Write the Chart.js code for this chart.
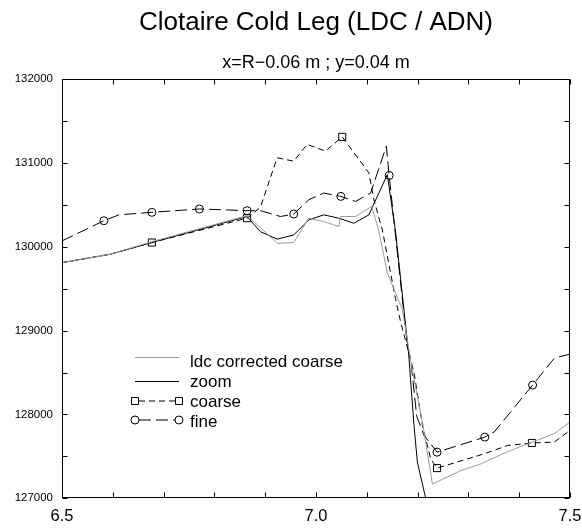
<!DOCTYPE html>
<html>
<head>
<meta charset="utf-8">
<script src="https://cdn.jsdelivr.net/npm/chart.js@4/dist/chart.umd.min.js"></script>
<style>
  html, body { margin: 0; padding: 0; background: #fff; }
  #c { display: block; }
</style>
</head>
<body>
<canvas id="c" width="582" height="529"></canvas>
<script>
// ---- Data ----
const titleText = 'Clotaire Cold Leg (LDC / ADN)';
const subtitleText = 'x=R\u22120.06 m ; y=0.04 m';

const seriesLabels = ['ldc corrected coarse', 'zoom', 'coarse', 'fine'];

const ldcX = [6.5, 6.5947, 6.6769, 6.8643, 6.8905, 6.9235, 6.9562, 6.9858, 7.0154, 7.0450, 7.0483, 7.0779, 7.1095, 7.1233, 7.1404, 7.1700, 7.1903, 7.2101, 7.2292, 7.2850, 7.3245, 7.3639, 7.4034, 7.4690, 7.5];
const ldcY = [129810, 129910, 130060, 130370, 130230, 130040, 130050, 130340, 130300, 130240, 130360, 130360, 130480, 130200, 129690, 129250, 128500, 127890, 127170, 127330, 127410, 127520, 127620, 127770, 127910];

const zoomX = [6.5, 6.5947, 6.6769, 6.8643, 6.8905, 6.9235, 6.9562, 6.9858, 7.0154, 7.0450, 7.0746, 7.1041, 7.1404, 7.1568, 7.1824, 7.1929, 7.1996, 7.2258];
const zoomY = [129810, 129910, 130050, 130360, 130180, 130090, 130140, 130320, 130380, 130340, 130280, 130380, 130860, 130170, 128720, 127870, 127430, 126740];

const coarseX = [6.5, 6.5947, 6.6769, 6.8643, 6.8905, 6.9235, 6.9562, 6.9826, 7.0187, 7.0517, 7.1041, 7.1140, 7.1306, 7.1568, 7.1667, 7.1929, 7.2095, 7.2258, 7.2383, 7.3310, 7.3771, 7.4250, 7.4690, 7.5];
const coarseY = [129810, 129910, 130050, 130340, 130470, 131060, 131020, 131220, 131140, 131310, 130880, 130560, 130200, 129370, 129100, 128500, 127870, 127470, 127360, 127530, 127630, 127660, 127670, 127810];
const coarseMarked = [2, 3, 9, 18, 21];

const fineX = [6.5, 6.5825, 6.6118, 6.6769, 6.7705, 6.8643, 6.8905, 6.9300, 6.9562, 6.9858, 7.0154, 7.0489, 7.0779, 7.1075, 7.1385, 7.1440, 7.1568, 7.1799, 7.1864, 7.1982, 7.2126, 7.2383, 7.3323, 7.3507, 7.4264, 7.4690, 7.5];
const fineY = [130070, 130310, 130380, 130410, 130450, 130430, 130430, 130360, 130390, 130560, 130640, 130600, 130540, 130640, 131200, 130850, 130120, 128820, 128660, 127980, 127750, 127550, 127730, 127790, 128350, 128670, 128720];
const fineMarked = [1, 3, 4, 5, 8, 11, 15, 21, 22, 24];

const xLabelValues = [6.5, 7.0, 7.5];
const yLabelValues = [127000, 128000, 129000, 130000, 131000, 132000];

// ---- Chart ----
const FONT = "'Liberation Sans', Arial, Helvetica, sans-serif";
const toPts = (xs, ys) => xs.map((x, i) => ({ x: x, y: ys[i] }));

const titlePlugin = {
  id: 'titles',
  afterDraw(chart) {
    const { ctx, chartArea } = chart;
    const cx = (chartArea.left + chartArea.right) / 2;
    ctx.save();
    ctx.fillStyle = '#000';
    ctx.textAlign = 'center';
    ctx.textBaseline = 'alphabetic';
    ctx.font = '26px ' + FONT;
    ctx.fillText(titleText, cx, 30);
    ctx.font = '18px ' + FONT;
    ctx.fillText(subtitleText, cx, 68);
    ctx.restore();
  }
};

const framePlugin = {
  id: 'frame',
  afterDatasetsDraw(chart) {
    const { ctx, chartArea: a, scales } = chart;
    const L = Math.round(a.left) + 0.5, R = Math.round(a.right) - 0.5;
    const T = Math.round(a.top) + 0.5, B = Math.round(a.bottom) - 0.5;
    const len = 5;
    ctx.save();
    ctx.strokeStyle = '#000';
    ctx.lineWidth = 1;
    ctx.beginPath();
    scales.x.ticks.forEach(t => {
      const p = Math.round(scales.x.getPixelForValue(t.value)) + 0.5;
      ctx.moveTo(p, B); ctx.lineTo(p, B - len);
      ctx.moveTo(p, T); ctx.lineTo(p, T + len);
    });
    scales.y.ticks.forEach(t => {
      const p = Math.round(scales.y.getPixelForValue(t.value)) + 0.5;
      ctx.moveTo(L, p); ctx.lineTo(L + len, p);
      ctx.moveTo(R, p); ctx.lineTo(R - len, p);
    });
    ctx.stroke();
    ctx.strokeRect(L, T, R - L, B - T);
    ctx.restore();
  }
};

function drawMarker(ctx, style, x, y) {
  ctx.beginPath();
  if (style === 'rect') {
    ctx.rect(x - 3.5, y - 3.5, 7, 7);
  } else {
    ctx.arc(x, y, 4, 0, Math.PI * 2);
  }
  ctx.stroke();
}

const legendPlugin = {
  id: 'innerLegend',
  afterDraw(chart) {
    const { ctx } = chart;
    const x0 = 135, x1 = 179, tx = 190;
    const baselines = [366.5, 386.5, 406.5, 426.5];
    const lineOffsets = [9, 5, 5.5, 6.5];
    ctx.save();
    chart.data.datasets.forEach((ds, i) => {
      const ly = baselines[i] - lineOffsets[i];
      ctx.strokeStyle = ds.borderColor;
      ctx.lineWidth = ds.borderWidth;
      ctx.setLineDash(ds.borderDash || []);
      ctx.beginPath();
      const inset = ds.legendMarker ? 4 : 0;
      ctx.moveTo(x0 + inset, ly);
      ctx.lineTo(x1 - inset, ly);
      ctx.stroke();
      ctx.setLineDash([]);
      if (ds.legendMarker) {
        ctx.strokeStyle = '#000';
        drawMarker(ctx, ds.legendMarker, x0, ly);
        drawMarker(ctx, ds.legendMarker, x1, ly);
      }
      ctx.fillStyle = '#000';
      ctx.font = '17px ' + FONT;
      ctx.textAlign = 'left';
      ctx.textBaseline = 'alphabetic';
      ctx.fillText(ds.label, tx, baselines[i]);
    });
    ctx.restore();
  }
};

new Chart(document.getElementById('c'), {
  type: 'scatter',
  data: {
    datasets: [
      {
        label: seriesLabels[0],
        data: toPts(ldcX, ldcY),
        showLine: true, borderColor: '#9a9a9a', borderWidth: 1,
        pointRadius: 0, pointHoverRadius: 0
      },
      {
        label: seriesLabels[1],
        data: toPts(zoomX, zoomY),
        showLine: true, borderColor: '#000000', borderWidth: 1,
        pointRadius: 0, pointHoverRadius: 0
      },
      {
        label: seriesLabels[2],
        data: toPts(coarseX, coarseY),
        showLine: true, borderColor: '#000000', borderWidth: 1, borderDash: [6, 4],
        pointStyle: 'rect', legendMarker: 'rect',
        pointRadius: ctx => coarseMarked.includes(ctx.dataIndex) ? 5 : 0,
        pointHoverRadius: 0,
        pointBorderColor: '#000', pointBackgroundColor: 'rgba(0,0,0,0)', pointBorderWidth: 1
      },
      {
        label: seriesLabels[3],
        data: toPts(fineX, fineY),
        showLine: true, borderColor: '#000000', borderWidth: 1, borderDash: [12, 5],
        pointStyle: 'circle', legendMarker: 'circle',
        pointRadius: ctx => fineMarked.includes(ctx.dataIndex) ? 4 : 0,
        pointHoverRadius: 0,
        pointBorderColor: '#000', pointBackgroundColor: 'rgba(0,0,0,0)', pointBorderWidth: 1
      }
    ]
  },
  options: {
    responsive: false,
    animation: false,
    events: [],
    layout: { padding: { top: 79, right: 12, left: 0, bottom: 0 } },
    plugins: { legend: { display: false }, tooltip: { enabled: false }, title: { display: false } },
    scales: {
      x: {
        type: 'linear', min: 6.5, max: 7.5,
        grid: { display: false, drawTicks: false },
        border: { display: false },
        afterFit: s => { s.height = 30.7; s.paddingLeft = 0; s.paddingRight = 0; },
        ticks: {
          stepSize: 0.1, autoSkip: false, maxRotation: 0, padding: 8,
          color: '#000', font: { family: FONT, size: 16.5 },
          callback: v => xLabelValues.some(t => Math.abs(t - v) < 1e-6) ? Number(v).toFixed(1) : ''
        }
      },
      y: {
        type: 'linear', min: 127000, max: 132000,
        grid: { display: false, drawTicks: false },
        border: { display: false },
        afterFit: s => { s.width = 62; s.paddingTop = 0; s.paddingBottom = 0; },
        ticks: {
          stepSize: 500, autoSkip: false, padding: 9,
          color: '#000', font: { family: FONT, size: 11.5 },
          callback: v => yLabelValues.includes(v) ? String(v) : ''
        }
      }
    }
  },
  plugins: [framePlugin, titlePlugin, legendPlugin]
});
</script>
</body>
</html>
